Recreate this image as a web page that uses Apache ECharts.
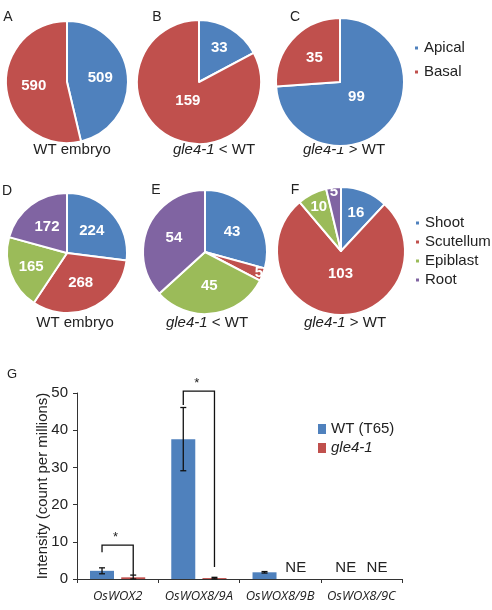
<!DOCTYPE html>
<html>
<head>
<meta charset="utf-8">
<script src="https://cdn.jsdelivr.net/npm/echarts@6/dist/echarts.min.js"></script>
<style>
  html, body { margin: 0; padding: 0; background: #fff; }
  #chart { width: 492px; height: 610px; }
</style>
</head>
<body>
<div id="chart"></div>
<script>
// pie data (A-C apical/basal, D-F tissue)
const apicalNames = ['Apical', 'Basal'];
const pieA = [509, 590];
const pieB = [33, 159];
const pieC = [99, 35];
const tissueNames = ['Shoot', 'Scutellum', 'Epiblast', 'Root'];
const pieD = [224, 268, 165, 172];
const pieE = [43, 5, 45, 54];
const pieF = [16, 103, 10, 5];

// bar chart G
const genes = ['OsWOX2', 'OsWOX8/9A', 'OsWOX8/9B', 'OsWOX8/9C'];
const wtMean = [2.2, 37.6, 1.8, null];
const wtErr = [0.8, 8.5, 0.2, null];
const gleMean = [0.45, 0.25, null, null];
const gleErr = [0.6, 0.2, null, null];
// [category, slot] where slot 0 = WT, 1 = gle4-1
const notExpressed = [[2, 1], [3, 0], [3, 1]];
// significance brackets: category, top, left leg end, right leg end
const sigCat = [0, 1];
const sigTop = [9.1, 50.5];
const sigLeft = [7.2, 46.8];
const sigRight = [1.1, 3.2];

const BLUE = '#4f81bd', RED = '#c0504d', GREEN = '#9bbb59', PURPLE = '#8064a2';
const FONT = '"Liberation Sans", Arial, sans-serif';
const INK = '#222';
const SLOT = 15.6; // half distance between the two bars of a category

const chart = echarts.init(document.getElementById('chart'));

// thin slices get their number pushed toward the rim, big ones toward the centre
function labelFraction(share) {
  if (share < 0.05) return 0.85;
  if (share < 0.1) return 0.7;
  if (share < 0.2) return 0.58;
  if (share > 0.7) return 0.32;
  return 0.5;
}

function pie(names, values, colors, center, r) {
  const total = values.reduce((a, b) => a + b, 0);
  return {
    type: 'pie',
    center: center,
    radius: r,
    startAngle: 90,
    clockwise: true,
    color: colors,
    silent: true,
    itemStyle: { borderColor: '#fff', borderWidth: 2 },
    label: {
      show: true, position: 'inside', color: '#fff',
      fontFamily: FONT, fontSize: 15, fontWeight: 'bold',
      formatter: '{c}'
    },
    labelLine: { show: false },
    labelLayout: function (p) {
      const f = labelFraction(values[p.dataIndex] / total);
      const lr = p.labelRect;
      const vx = lr.x + lr.width / 2 - center[0];
      const vy = lr.y + lr.height / 2 - center[1];
      const k = f / 0.5 - 1;
      return { dx: vx * k, dy: vy * k };
    },
    data: names.map((n, i) => ({ name: n, value: values[i] }))
  };
}

function txt(text, x, y, size) {
  return {
    type: 'text', x: x, y: y,
    style: {
      text: text, fill: INK, font: (size || 15) + 'px ' + FONT,
      align: 'center', verticalAlign: 'middle',
      rich: { i: { fontStyle: 'italic', fontSize: size || 15, fontFamily: FONT, fill: INK } }
    }
  };
}

const apicalColors = [BLUE, RED];
const tissueColors = [BLUE, RED, GREEN, PURPLE];

const option = {
  animation: false,
  backgroundColor: '#fff',
  graphic: [
    txt('A', 8, 17, 14), txt('B', 157, 17, 14), txt('C', 295, 17, 14),
    txt('D', 7, 191, 14), txt('E', 156, 190, 14), txt('F', 295, 190, 14),
    txt('G', 12, 374, 13),
    txt('WT embryo', 72, 150), txt('{i|gle4-1} < WT', 214, 150), txt('{i|gle4-1} > WT', 344, 150),
    txt('WT embryo', 75, 323), txt('{i|gle4-1} < WT', 207, 323), txt('{i|gle4-1} > WT', 345, 323)
  ],
  legend: [
    {
      data: apicalNames, orient: 'vertical', left: 413, top: 40, padding: 0,
      icon: 'rect', itemWidth: 5, itemHeight: 5, itemGap: 8,
      textStyle: { fontFamily: FONT, fontSize: 15, color: INK, lineHeight: 16 },
      selectedMode: false
    },
    {
      data: tissueNames, orient: 'vertical', left: 414, top: 215, padding: 0,
      icon: 'rect', itemWidth: 5, itemHeight: 5, itemGap: 3,
      textStyle: { fontFamily: FONT, fontSize: 15, color: INK, lineHeight: 16 },
      selectedMode: false
    },
    {
      data: ['WT (T65)', 'gle4-1'], orient: 'vertical', left: 318, top: 421, padding: 0,
      icon: 'rect', itemWidth: 8, itemHeight: 10, itemGap: 3,
      textStyle: {
        fontFamily: FONT, fontSize: 15, color: INK, lineHeight: 16,
        rich: { i: { fontStyle: 'italic', fontFamily: FONT, fontSize: 15, color: INK } }
      },
      formatter: n => (n === 'gle4-1' ? '{i|gle4-1}' : n),
      selectedMode: false
    }
  ],
  grid: { left: 77, right: 90, top: 393, bottom: 31 },
  xAxis: {
    type: 'category', data: genes,
    axisLine: { show: true, lineStyle: { color: '#333', width: 1 } },
    axisTick: { show: true, length: 4, alignWithLabel: false, lineStyle: { color: '#333' } },
    axisLabel: {
      interval: 0, margin: 11, color: INK, fontSize: 13,
      fontStyle: 'italic', fontFamily: '"Open Sans", "Noto Sans", sans-serif'
    },
    splitLine: { show: false }
  },
  yAxis: {
    type: 'value', min: 0, max: 50, interval: 10,
    name: 'Intensity (count per millions)', nameLocation: 'middle', nameGap: 27,
    nameMoveOverlap: false,
    nameTextStyle: { fontFamily: FONT, fontSize: 15, color: INK },
    axisLine: { show: true, lineStyle: { color: '#333', width: 1 } },
    axisTick: { show: true, length: 4, lineStyle: { color: '#333' } },
    axisLabel: { margin: 9, color: INK, fontSize: 15, fontFamily: FONT },
    splitLine: { show: false }
  },
  series: [
    pie(apicalNames, pieA, apicalColors, [67, 82], 61),
    pie(apicalNames, pieB, apicalColors, [199, 82], 62),
    pie(apicalNames, pieC, apicalColors, [340, 82], 64),
    pie(tissueNames, pieD, tissueColors, [67, 253], 60),
    pie(tissueNames, pieE, tissueColors, [205, 252], 62),
    pie(tissueNames, pieF, tissueColors, [341, 251], 64),
    {
      type: 'bar', name: 'WT (T65)', data: wtMean, barWidth: 24, barGap: '30%',
      itemStyle: { color: BLUE }, silent: true
    },
    {
      type: 'bar', name: 'gle4-1', data: gleMean, barWidth: 24,
      itemStyle: { color: RED }, silent: true
    },
    {
      type: 'custom', name: 'err', silent: true, clip: false, z: 5,
      data: wtMean.map((m, i) => [i, m, wtErr[i], 0])
        .concat(gleMean.map((m, i) => [i, m, gleErr[i], 1]))
        .filter(d => d[1] != null),
      renderItem: function (params, api) {
        const c = api.value(0), m = api.value(1), e = api.value(2), s = api.value(3);
        const x = api.coord([c, 0])[0] + (s ? SLOT : -SLOT);
        const yHi = api.coord([c, m + e])[1];
        const yLo = api.coord([c, Math.max(0, m - e)])[1];
        const st = { stroke: '#111', lineWidth: 1.3 };
        return {
          type: 'group', children: [
            { type: 'line', shape: { x1: x, y1: yHi, x2: x, y2: yLo }, style: st },
            { type: 'line', shape: { x1: x - 3, y1: yHi, x2: x + 3, y2: yHi }, style: st },
            { type: 'line', shape: { x1: x - 3, y1: yLo, x2: x + 3, y2: yLo }, style: st }
          ]
        };
      }
    },
    {
      type: 'custom', name: 'sig', silent: true, clip: false, z: 5,
      data: sigCat.map((c, i) => [c, sigTop[i], sigLeft[i], sigRight[i]]),
      renderItem: function (params, api) {
        const c = api.value(0);
        const xc = api.coord([c, 0])[0];
        const x0 = xc - SLOT, x1 = xc + SLOT;
        const yt = api.coord([c, api.value(1)])[1];
        const yl = api.coord([c, api.value(2)])[1];
        const yr = api.coord([c, api.value(3)])[1];
        return {
          type: 'group', children: [
            {
              type: 'polyline',
              shape: { points: [[x0, yl], [x0, yt], [x1, yt], [x1, yr]] },
              style: { stroke: '#111', lineWidth: 1.3, fill: null }
            },
            {
              type: 'text', x: xc - 2, y: yt - 8,
              style: { text: '*', fill: INK, font: '13px ' + FONT, align: 'center', verticalAlign: 'middle' }
            }
          ]
        };
      }
    },
    {
      type: 'custom', name: 'ne', silent: true, clip: false, z: 5,
      data: notExpressed,
      renderItem: function (params, api) {
        const c = api.value(0), s = api.value(1);
        const p = api.coord([c, 0]);
        return {
          type: 'text', x: p[0] + (s ? SLOT : -SLOT), y: p[1] - 11,
          style: { text: 'NE', fill: INK, font: '15px ' + FONT, align: 'center', verticalAlign: 'middle' }
        };
      }
    }
  ]
};

chart.setOption(option);
</script>
</body>
</html>
